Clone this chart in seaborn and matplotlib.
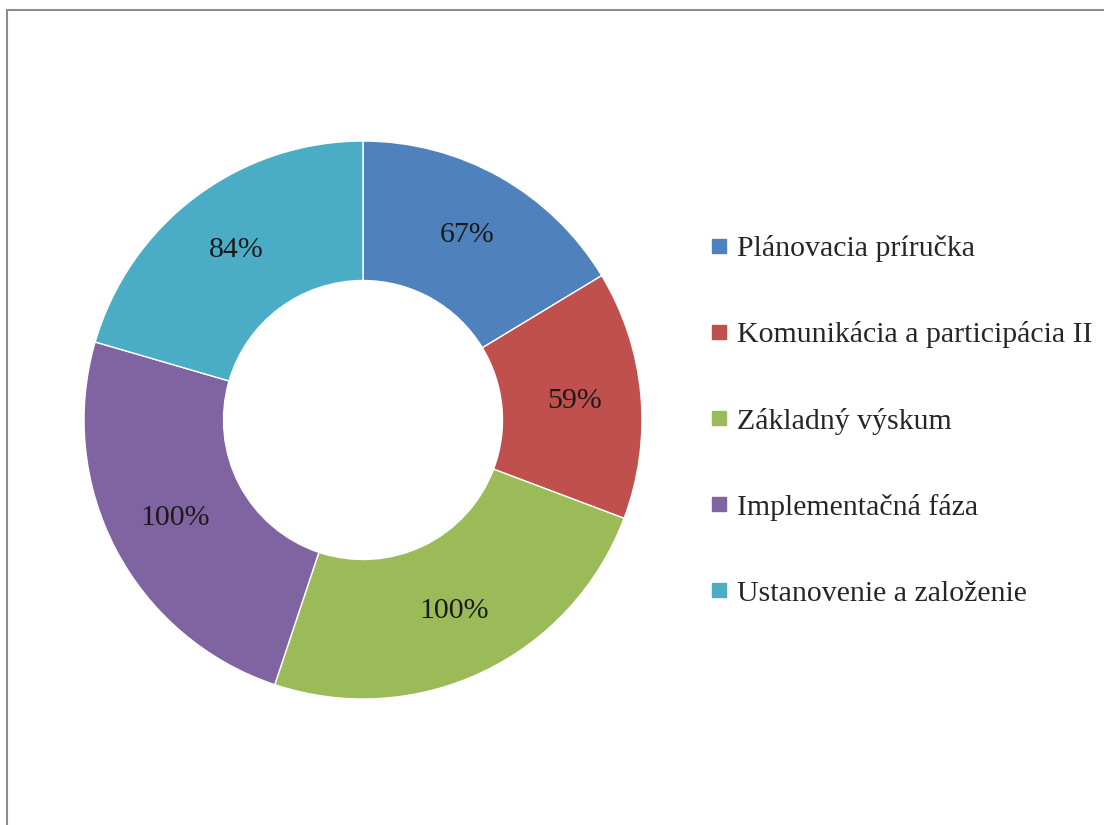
import matplotlib
matplotlib.use("Agg")
import matplotlib.pyplot as plt
import seaborn as sns
from matplotlib.lines import Line2D

categories = ["Plánovacia príručka", "Komunikácia a participácia II", "Základný výskum",
              "Implementačná fáza", "Ustanovenie a založenie"]
values = [67, 59, 100, 100, 84]
colors = ["#4F81BD", "#C0504D", "#9BBB59", "#8064A2", "#4BACC6"]

sns.set_style("white")
plt.rcParams['font.family'] = ['Liberation Serif', 'DejaVu Serif']

fig = plt.figure(figsize=(11.04, 8.25), dpi=100)
ax = fig.add_axes([0.0761, 0.1527, 0.5054, 0.6764])

palette = sns.color_palette(colors)
total = sum(values)
wedges, texts, autotexts = ax.pie(
    values, colors=palette, startangle=90, counterclock=False, radius=1.0,
    wedgeprops=dict(width=0.5, edgecolor="white", linewidth=1),
    autopct=lambda p: f"{round(p * total / 100):.0f}%", pctdistance=0.76,
    textprops=dict(fontsize=21.5, color="#1a1a1a"))
ax.set_xlim(-1, 1)
ax.set_ylim(-1, 1)
ax.set_aspect("equal")
ax.axis("off")

handles = [Line2D([0], [0], marker="s", linestyle="none", markersize=9.5,
                  markerfacecolor=c, markeredgecolor=c) for c in palette]
fig.legend(handles, categories, loc="center left", bbox_to_anchor=(0.643, 0.4897),
           frameon=False, fontsize=21.5, labelspacing=1.98, handlelength=0.6,
           handletextpad=0.3, borderpad=0, borderaxespad=0)

# gray frame (top and left edges visible)
fig.add_artist(Line2D([7 / 1104, 7 / 1104], [0, 1 - 10 / 825], color="#8c8c8c", lw=1.5,
                      transform=fig.transFigure))
fig.add_artist(Line2D([7 / 1104, 1], [1 - 10 / 825, 1 - 10 / 825], color="#8c8c8c", lw=1.5,
                      transform=fig.transFigure))

fig.savefig("out.png", dpi=100, facecolor="white")
